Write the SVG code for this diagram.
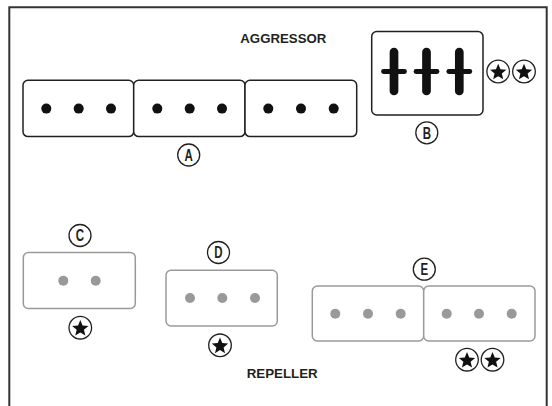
<svg xmlns="http://www.w3.org/2000/svg" xmlns:xlink="http://www.w3.org/1999/xlink" width="552" height="406" viewBox="0 0 552 406">
<style>
.frame{fill:none;stroke:#333;stroke-width:2}
.box{fill:#fff;stroke:#231f20;stroke-width:1.5}
.gbox{fill:#fff;stroke:#9a9a9a;stroke-width:1.5}
.dot{fill:#111}
.gdot{fill:#999}
.ring{fill:#fff;stroke:#231f20;stroke-width:1.3}
.lbl{font-family:"Liberation Sans",Arial,sans-serif;font-weight:bold;font-size:16px;fill:#231f20;text-anchor:middle}
.title{font-family:"Liberation Sans",Arial,sans-serif;font-weight:bold;font-size:12.5px;fill:#231f20;text-anchor:middle}
.bar{stroke:#111;stroke-linecap:round;fill:none}
</style>
<defs>
<g id="star">
<circle class="ring" r="11.3"/>
<path d="M0,-8.6 L2.25,-3.1 L8.18,-2.66 L3.62,1.18 L5.05,6.96 L0,3.8 L-5.05,6.96 L-3.62,1.18 L-8.18,-2.66 L-2.25,-3.1 Z" transform="translate(0,0.9)" fill="#111"/>
</g>
</defs>
<path class="frame" d="M9.3,406 V7.3 H546.7 V406"/>
<text class="title" x="283.3" y="42.7" textLength="86" lengthAdjust="spacingAndGlyphs">AGGRESSOR</text>
<text class="title" x="282.2" y="378.3" textLength="71" lengthAdjust="spacingAndGlyphs">REPELLER</text>
<g id="node-A">
<rect class="box" x="23" y="80.3" width="110.7" height="56.3" rx="5"/>
<rect class="box" x="133.7" y="80.3" width="111.3" height="56.3" rx="5"/>
<rect class="box" x="245" y="80.3" width="111.7" height="56.3" rx="5"/>
<circle class="dot" cx="46.3" cy="108.6" r="5"/>
<circle class="dot" cx="78.7" cy="108.6" r="5"/>
<circle class="dot" cx="111" cy="108.6" r="5"/>
<circle class="dot" cx="157.3" cy="108.6" r="5"/>
<circle class="dot" cx="189.7" cy="108.6" r="5"/>
<circle class="dot" cx="222" cy="108.6" r="5"/>
<circle class="dot" cx="268.3" cy="108.6" r="5"/>
<circle class="dot" cx="301" cy="108.6" r="5"/>
<circle class="dot" cx="333.7" cy="108.6" r="5"/>
<circle class="ring" cx="188.7" cy="155" r="11"/>
<text class="lbl" transform="translate(188.7,160.7) scale(0.72,1)">A</text>
</g>
<g id="node-B">
<rect class="box" x="371.7" y="31.5" width="111.3" height="83.5" rx="5"/>
<g class="bar" stroke-width="8.7">
<line x1="394" y1="52" x2="394" y2="91"/>
<line x1="426.5" y1="52" x2="426.5" y2="91"/>
<line x1="459.3" y1="52" x2="459.3" y2="91"/>
</g>
<g class="bar" stroke-width="4.8">
<line x1="383.5" y1="71.5" x2="404.5" y2="71.5"/>
<line x1="416" y1="71.5" x2="437" y2="71.5"/>
<line x1="448.8" y1="71.5" x2="469.8" y2="71.5"/>
</g>
<use xlink:href="#star" href="#star" x="498.2" y="71.5"/>
<use xlink:href="#star" href="#star" x="524" y="71.5"/>
<circle class="ring" cx="426.8" cy="132.8" r="11"/>
<text class="lbl" transform="translate(426.8,138.5) scale(0.72,1)">B</text>
</g>
<g id="node-C">
<rect class="gbox" x="23.3" y="252.5" width="112" height="56" rx="5"/>
<circle class="gdot" cx="63.3" cy="280.7" r="5"/>
<circle class="gdot" cx="95.7" cy="280.7" r="5"/>
<circle class="ring" cx="80" cy="235.5" r="11"/>
<text class="lbl" transform="translate(80,241.2) scale(0.72,1)">C</text>
<use xlink:href="#star" href="#star" x="80.3" y="327.7"/>
</g>
<g id="node-D">
<rect class="gbox" x="166" y="270.3" width="111.3" height="55.7" rx="5"/>
<circle class="gdot" cx="190" cy="298" r="5"/>
<circle class="gdot" cx="222.3" cy="298" r="5"/>
<circle class="gdot" cx="255" cy="298" r="5"/>
<circle class="ring" cx="218.5" cy="252.5" r="11"/>
<text class="lbl" transform="translate(218.5,258.2) scale(0.72,1)">D</text>
<use xlink:href="#star" href="#star" x="220" y="345.3"/>
</g>
<g id="node-E">
<rect class="gbox" x="312.3" y="286" width="111.4" height="55" rx="5"/>
<rect class="gbox" x="423.7" y="286" width="111.3" height="55" rx="5"/>
<circle class="gdot" cx="335.3" cy="313.7" r="5"/>
<circle class="gdot" cx="368" cy="313.7" r="5"/>
<circle class="gdot" cx="400.7" cy="313.7" r="5"/>
<circle class="gdot" cx="446.7" cy="313.7" r="5"/>
<circle class="gdot" cx="479" cy="313.7" r="5"/>
<circle class="gdot" cx="511.7" cy="313.7" r="5"/>
<circle class="ring" cx="424.3" cy="269.2" r="11"/>
<text class="lbl" transform="translate(424.3,274.9) scale(0.72,1)">E</text>
<use xlink:href="#star" href="#star" x="467" y="359.7"/>
<use xlink:href="#star" href="#star" x="492.5" y="359.7"/>
</g>
<g id="connectors"/>
</svg>
